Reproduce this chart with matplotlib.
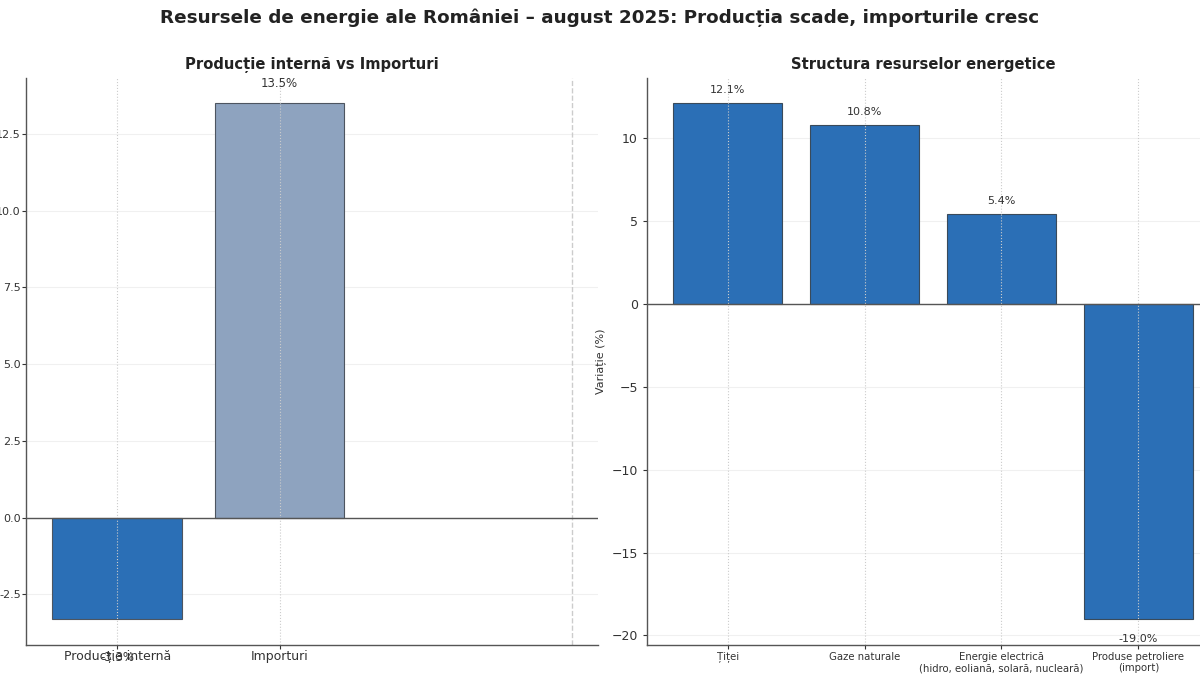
import matplotlib.pyplot as plt
from matplotlib.ticker import FuncFormatter

# Data
left_labels = ['Producție internă', 'Importuri']
left_values = [-3.3, 13.5]
left_colors = ['#2b6fb6', '#8ea3bf']

right_labels = ['Țiței', 'Gaze naturale',
                'Energie electrică\n(hidro, eoliană, solară, nucleară)',
                'Produse petroliere\n(import)']
right_values = [12.1, 10.8, 5.4, -19.0]

plt.rcParams['font.family'] = ['DejaVu Sans']
text_color = '#333333'
spine_color = '#555555'

fig = plt.figure(figsize=(12, 6.75), dpi=100)
fig.suptitle('Resursele de energie ale României – august 2025: Producția scade, importurile cresc',
             fontsize=13.2, fontweight='bold', y=0.988, color='#222222')

ax1 = fig.add_axes([0.022, 0.045, 0.476, 0.84])
ax2 = fig.add_axes([0.539, 0.045, 0.461, 0.84])

for ax in (ax1, ax2):
    for s in ['top', 'right']:
        ax.spines[s].set_visible(False)
    for s in ['left', 'bottom']:
        ax.spines[s].set_color(spine_color)
        ax.spines[s].set_linewidth(1.0)
    ax.tick_params(colors=text_color, labelsize=9, length=3)
    ax.grid(axis='y', linestyle='-', color='#f0f0f0', linewidth=0.8)
    ax.set_axisbelow(True)
    ax.axhline(0, color='#555555', linewidth=1.0, zorder=3)

# Left chart
x1 = list(range(len(left_values)))
ax1.bar(x1, left_values, width=0.8, color=left_colors, edgecolor='#4d5560', linewidth=0.8, zorder=1)
ax1.axvline(2.8, linestyle='--', color='#cccccc', linewidth=1.0)
for x in x1:
    ax1.axvline(x, linestyle=':', color='#cccccc', linewidth=0.8, zorder=2)
ax1.set_xticks(x1)
ax1.set_xticklabels(left_labels)
ax1.yaxis.set_major_formatter(FuncFormatter(lambda v, p: f'{v:.1f}'))
for x, v in zip(x1, left_values):
    y = v + 0.66 if v >= 0 else v - 1.27
    ax1.text(x, y, f'{v:.1f}%', ha='center', va='center', fontsize=8.5, color=text_color)
ax1.set_title('Producție internă vs Importuri', fontsize=10.6, fontweight='bold', color='#222222', pad=6)
ax1.tick_params(axis='y', pad=1, labelsize=8)
ax1.tick_params(axis='x', pad=1)

# Right chart
x2 = list(range(len(right_values)))
ax2.bar(x2, right_values, width=0.8, color='#2b6fb6', edgecolor='#3a4a5a', linewidth=0.8, zorder=1)
for x in x2:
    ax2.axvline(x, linestyle=':', color='#cccccc', linewidth=0.8, zorder=2)
ax2.set_xticks(x2)
ax2.set_xticklabels(right_labels, fontsize=7.3)
ax2.set_xlim(-0.59, 3.45)
for x, v in zip(x2, right_values):
    y = v + 0.8 if v >= 0 else v - 1.24
    ax2.text(x, y, f'{v:.1f}%', ha='center', va='center', fontsize=8, color=text_color)
ax2.set_ylabel('Variație (%)', fontsize=8, color=text_color, labelpad=4)
ax2.set_title('Structura resurselor energetice', fontsize=10.6, fontweight='bold', color='#222222', pad=6)
ax2.tick_params(axis='x', pad=2)

fig.savefig('out.png', dpi=100)
